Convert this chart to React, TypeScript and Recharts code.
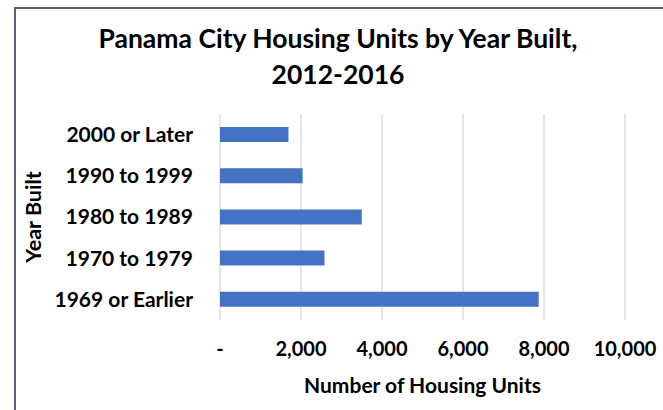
import { BarChart, Bar, XAxis, YAxis, CartesianGrid } from "recharts";

const yearBuilt = ["2000 or Later", "1990 to 1999", "1980 to 1989", "1970 to 1979", "1969 or Earlier"];
const housingUnits = [1690, 2040, 3500, 2580, 7870];
const unitTicks = [0, 2000, 4000, 6000, 8000, 10000];

const data = yearBuilt.map((name, i) => ({ name, units: housingUnits[i] }));

const FONT = "Lato, 'Open Sans', sans-serif";
const fmt = (v: number) => (v === 0 ? "-" : v.toLocaleString("en-US"));

function YearBuiltLabel() {
  return (
    <text
      x={33}
      y={217}
      transform="rotate(-90, 33, 217)"
      textAnchor="middle"
      dominantBaseline="central"
      fontFamily={FONT}
      fontWeight={700}
      fontSize={21.5}
      fill="#000"
    >
      Year Built
    </text>
  );
}

export default function App() {
  return (
    <div style={{ position: "fixed", left: 0, top: 0, width: 663, height: 410, background: "#fff", overflow: "hidden" }}>
      <div
        style={{
          position: "absolute",
          left: 14,
          top: 7,
          width: 700,
          height: 500,
          borderTop: "2px solid #5a6078",
          borderLeft: "2px solid #5a6078",
        }}
      />
      <div
        style={{
          position: "absolute",
          left: 0,
          width: 676,
          top: 20,
          textAlign: "center",
          fontFamily: FONT,
          fontWeight: 700,
          fontSize: 26.5,
          lineHeight: "36px",
          color: "#000",
        }}
      >
        Panama City Housing Units by Year Built,
        <br />
        2012-2016
      </div>
      <div style={{ position: "absolute", left: 0, top: 0 }}>
        <BarChart
          width={663}
          height={410}
          data={data}
          layout="vertical"
          margin={{ top: 114, right: 38, bottom: 0, left: 0 }}
        >
          <CartesianGrid horizontal={false} stroke="#d9d9d9" strokeWidth={1.3} />
          <XAxis
            type="number"
            domain={[0, 10000]}
            ticks={unitTicks}
            tickFormatter={fmt}
            axisLine={false}
            tickLine={false}
            tickMargin={16}
            height={90}
            interval={0}
            tick={{ fill: "#000", fontFamily: FONT, fontWeight: 700, fontSize: 20 }}
            label={{
              value: "Number of Housing Units",
              position: "insideBottom",
              offset: 17,
              fill: "#000",
              fontFamily: FONT,
              fontWeight: 700,
              fontSize: 21,
            }}
          />
          <YAxis
            type="category"
            dataKey="name"
            width={220}
            axisLine={false}
            tickLine={false}
            tickMargin={21}
            interval={0}
            tick={{ fill: "#000", fontFamily: FONT, fontWeight: 700, fontSize: 21 }}
            label={<YearBuiltLabel />}
          />
          <Bar dataKey="units" fill="#4472c4" barSize={15} isAnimationActive={false} />
        </BarChart>
      </div>
    </div>
  );
}
